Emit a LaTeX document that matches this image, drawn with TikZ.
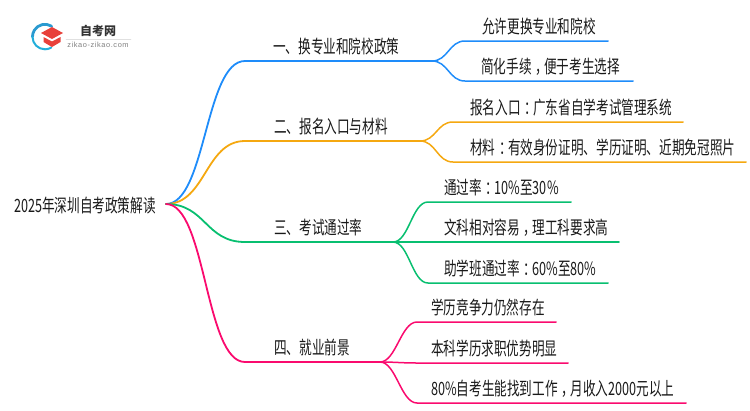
\documentclass[tikz,border=0pt]{standalone}
\usepackage{fontspec}
\setmainfont[FakeStretch=.69]{Noto Sans CJK SC}
\newfontfamily\logofont[Scale=1]{Noto Sans CJK SC}
\newfontfamily\urlfont[LetterSpace=8]{Liberation Sans}
\def\zc{\kern.2em，\kern-.2em}
\def\zk{\kern.2em：\kern-.2em}
\definecolor{cblue}{HTML}{1E8CFA}
\definecolor{corange}{HTML}{F5A810}
\definecolor{cgreen}{HTML}{08BF70}
\definecolor{cpink}{HTML}{FA0A6E}
\definecolor{clogo}{HTML}{E8403A}
\definecolor{clogob}{HTML}{2A9AD0}
\begin{document}
\begin{tikzpicture}[x=1pt, y=-1pt, line join=round, line cap=round]
	\tikzset{
		txt/.style={anchor=base west, inner sep=0pt, font=\fontsize{18.3pt}{20pt}\selectfont, text=black!90},
		main/.style={line width=1.8pt},
		sub/.style={line width=1.5pt},
		bend/.style={to path={.. controls +(#1,0) and +(-#1,0) .. (\tikztotarget)}},
	}
	\useasboundingbox (0,0) rectangle (750,410);
	% logo
	\draw[clogob, line width=2.8pt] (51.6,26.2) arc (-58:-180:12.5) coordinate (logoa);
	\draw[clogob!80!cyan, line width=2pt] (logoa) arc (-180:-300:12.5);
	\fill[clogo] (52,27)--(63,33)--(52,39)--(41,33)--cycle;
	\fill[clogo] (43.5,37)--(52,41.5)--(60.5,37)--(60.5,42)--(52,47)--(43.5,42)--cycle;
	\draw[black!12, line width=.5pt] (66,39)--(131,39);
	\node[inner sep=0pt, font=\logofont\fontsize{12pt}{14pt}\selectfont\bfseries, text=black!80] (logotxt) at (98,30.5) {自考网};
	\node[inner sep=0pt, font=\urlfont\fontsize{7.4pt}{8pt}\selectfont, text=black!50] (logourl) at (98,45) {zikao-zikao.com};
	% root
	\coordinate (root) at (166,204);
	\node[txt] (roottxt) at (14,212) {2025年深圳自考政策解读};
	% branches
	\foreach \name/\col/\y/\xj/\xt/\lab in {
		a/cblue/61/432/273/一、换专业和院校政策,
		b/corange/141/420/274/二、报名入口与材料,
		c/cgreen/242/393/274/三、考试通过率,
		d/cpink/362/380/274/四、就业前景}{
		\coordinate (\name s) at (245,\y);
		\coordinate (\name j) at (\xj,\y);
		\draw[main, \col] (root) to[bend=40] (\name s) -- (\name j);
		\node[txt] (\name txt) at (\xt,\y-8) {\lab};
	}
	% leaves
	\foreach \name/\from/\col/\y/\xs/\xe/\xt/\lab in {
		a1/a/cblue/41/465/608/482/允许更换专业和院校,
		a2/a/cblue/81/465/633/481/简化手续\zc 便于考生选择,
		b1/b/corange/122/453/683/470/报名入口\zk 广东省自学考试管理系统,
		b2/b/corange/162/453/746/470/材料\zk 有效身份证明、学历证明、近期免冠照片,
		c1/c/cgreen/202/428/571/444/通过率\zk 10\%至30\%,
		c2/c/cgreen/242/428/619/444/文科相对容易\zc 理工科要求高,
		c3/c/cgreen/283/428/608/444/助学班通过率\zk 60\%至80\%,
		d1/d/cpink/322/417/556/431/学历竞争力仍然存在,
		d2/d/cpink/363/417/568/431/本科学历求职优势明显,
		d3/d/cpink/403/417/686/431/80\%自考生能找到工作\zc 月收入2000元以上}{
		\coordinate (\name s) at (\xs,\y);
		\coordinate (\name e) at (\xe,\y);
		\draw[sub, \col] (\from j) to[bend=16] (\name s) -- (\name e);
		\node[txt] (\name txt) at (\xt,\y-8) {\lab};
	}
\end{tikzpicture}
\end{document}
